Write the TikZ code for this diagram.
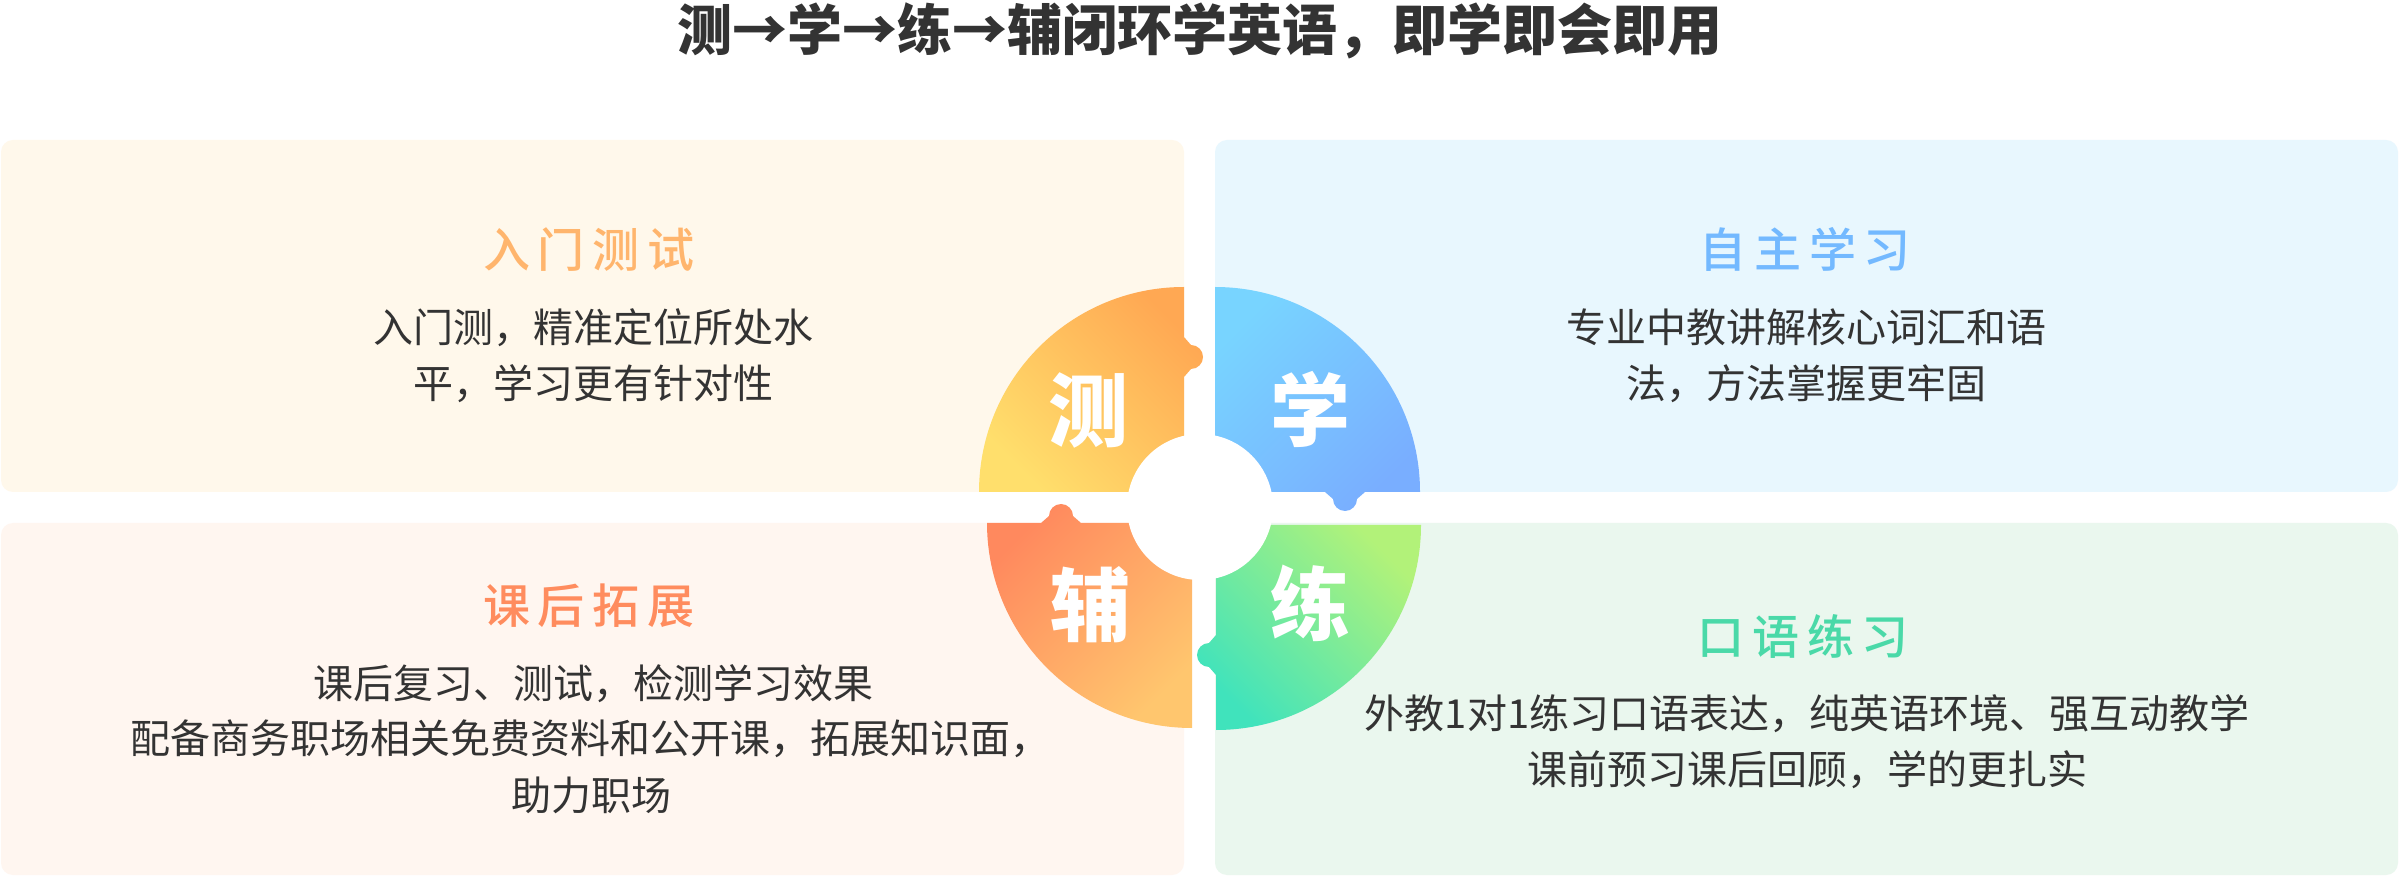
\documentclass[tikz,border=0pt]{standalone}
\usepackage{fontspec}
\setmainfont{Noto Sans CJK SC}
\newfontfamily\headfont{Noto Sans CJK SC Medium}
\definecolor{txt}{HTML}{333333}
\definecolor{cardTL}{HTML}{FFF8EB}
\definecolor{cardTR}{HTML}{E8F7FE}
\definecolor{cardBL}{HTML}{FFF6F0}
\definecolor{cardBR}{HTML}{EAF7EE}
\definecolor{tlA}{HTML}{FFDF6C}
\definecolor{tlB}{HTML}{FFA853}
\definecolor{trA}{HTML}{78D4FF}
\definecolor{trB}{HTML}{79AEFF}
\definecolor{blA}{HTML}{FF895E}
\definecolor{blB}{HTML}{FFC66E}
\definecolor{brA}{HTML}{B2F279}
\definecolor{brB}{HTML}{40E3BC}
\definecolor{hTL}{HTML}{FFB56D}
\definecolor{hTR}{HTML}{73B9FF}
\definecolor{hBL}{HTML}{FF8C5E}
\definecolor{hBR}{HTML}{4AD9A8}
\begin{document}
\begin{tikzpicture}[x=1pt,y=1pt,
  bodytext/.style={anchor=base, inner sep=0pt, text=txt, font=\fontsize{40pt}{48pt}\selectfont},
  cardhead/.style={anchor=base, inner sep=0pt, font=\fontsize{47pt}{56pt}\selectfont\headfont},
  piecelabel/.style={anchor=base, inner sep=0pt, text=white, font=\fontsize{80pt}{90pt}\selectfont\bfseries},
  card/.style={rounded corners=12pt}]
\useasboundingbox (0,0) rectangle (2400,876);
\fill[white] (0,0) rectangle (2400,876);
% title
\node[anchor=base, inner sep=0pt, text=txt, font=\fontsize{55pt}{66pt}\selectfont\bfseries] (title) at (1200,825) {测→学→练→辅闭环学英语，即学即会即用};
% cards
\fill[cardTL, card] (1,384) rectangle (1184,736);
\fill[cardTR, card] (1215,384) rectangle (2398,736);
\fill[cardBL, card] (1,1) rectangle (1184,353);
\fill[cardBR, card] (1215,1) rectangle (2398,353);
% pieces
\shade[top color=tlB, bottom color=tlA, shading angle=-45]
  (1184,384) -- (979,384) arc[start angle=180,end angle=90,radius=205]
  -- (1184,539) -- (1191,531) arc[start angle=90,end angle=-90,radius=12]
  -- (1184,499) -- cycle;
\shade[top color=trA, bottom color=trB, shading angle=45]
  (1215,384) -- (1215,589) arc[start angle=90,end angle=0,radius=205]
  -- (1365,384) -- (1357,377) arc[start angle=0,end angle=-180,radius=12]
  -- (1325,384) -- cycle;
\shade[top color=blA, bottom color=blB, shading angle=45]
  (1192,353) -- (1081,353) -- (1073,360) arc[start angle=0,end angle=180,radius=12]
  -- (1041,353) -- (987,353) arc[start angle=180,end angle=270,radius=205]
  -- cycle;
\shade[top color=brA, bottom color=brB, shading angle=-45]
  (1216,351) -- (1421,351) arc[start angle=0,end angle=-90,radius=205]
  -- (1216,201) -- (1209,209) arc[start angle=-90,end angle=-270,radius=12]
  -- (1216,241) -- cycle;
\fill[white] (1200,369) circle[radius=73];
% piece labels
\node[piecelabel] (lce) at (1088,435) {测};
\node[piecelabel] (lxue) at (1310,435) {学};
\node[piecelabel] (lfu) at (1090,241) {辅};
\node[piecelabel] (llian) at (1310,242) {练};
% card heads
\node[cardhead, text=hTL] (hTLn) at (589,608) {入\kern8pt 门\kern8pt 测\kern8pt 试};
\node[cardhead, text=hTR] (hTRn) at (1805,608) {自\kern8pt 主\kern8pt 学\kern8pt 习};
\node[cardhead, text=hBL] (hBLn) at (589,253) {课\kern8pt 后\kern8pt 拓\kern8pt 展};
\node[cardhead, text=hBR] (hBRn) at (1803,222) {口\kern8pt 语\kern8pt 练\kern8pt 习};
% body texts
\node[bodytext] (tl1) at (593,533) {入门测，精准定位所处水};
\node[bodytext] (tl2) at (593,477) {平，学习更有针对性};
\node[bodytext] (tr1) at (1806,533) {专业中教讲解核心词汇和语};
\node[bodytext] (tr2) at (1806,477) {法，方法掌握更牢固};
\node[bodytext] (bl1) at (593,178) {课后复习、测试，检测学习效果};
\node[bodytext] (bl2) at (590,123) {配备商务职场相关免费资料和公开课，拓展知识面，};
\node[bodytext] (bl3) at (591,66) {助力职场};
\node[bodytext] (br1) at (1807,148) {外教1对1练习口语表达，纯英语环境、强互动教学};
\node[bodytext] (br2) at (1807,92) {课前预习课后回顾，学的更扎实};
\end{tikzpicture}
\end{document}
